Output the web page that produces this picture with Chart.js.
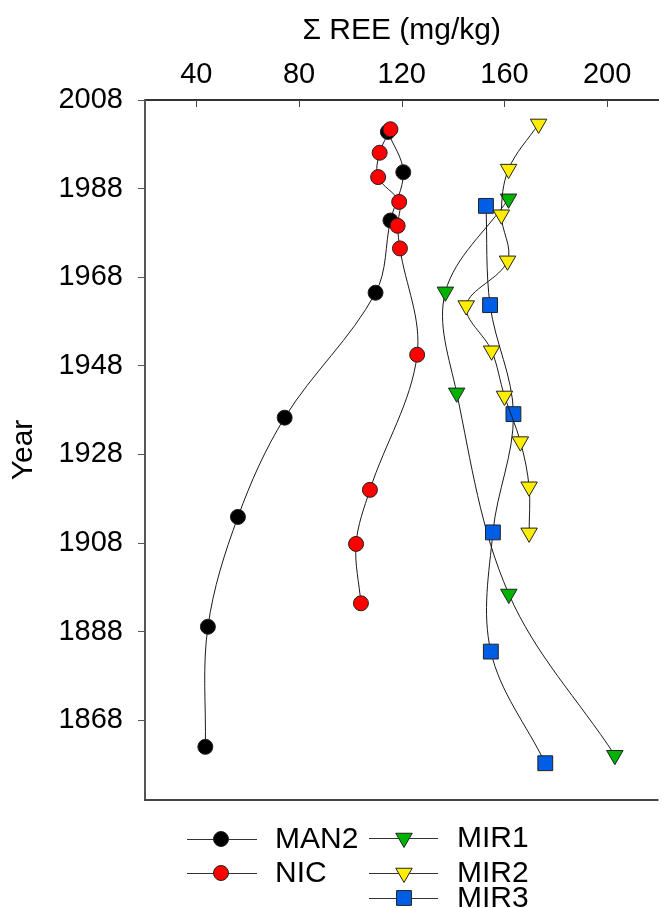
<!DOCTYPE html>
<html>
<head>
<meta charset="utf-8">
<script src="https://cdn.jsdelivr.net/npm/chart.js@4.4.0/dist/chart.umd.min.js"></script>
<style>
  html, body { margin: 0; padding: 0; background: #fff; overflow: hidden; }
  canvas { display: block; }
</style>
</head>
<body>
<canvas id="myChart" width="670" height="908"></canvas>
<script>
var xTicks = [40, 80, 120, 160, 200];
var yTicks = [1868, 1888, 1908, 1928, 1948, 1968, 1988, 2008];

// sum of REE (mg/kg) by year
var man2Year = [2000.8, 1991.7, 1980.8, 1964.5, 1936.3, 1913.9, 1889.1, 1862.0];
var man2Ree = [114.6, 120.6, 115.6, 109.8, 74.4, 56.2, 44.5, 43.5];

var nicYear = [2001.4, 1996.1, 1990.6, 1985.0, 1979.6, 1974.5, 1950.5, 1920.0, 1907.8, 1894.4];
var nicRee = [115.6, 111.4, 110.8, 119.0, 118.4, 119.3, 126.0, 107.6, 102.2, 104.1];

var mir1Year = [1985.7, 1964.7, 1941.9, 1896.5, 1860.1];
var mir1Ree = [161.6, 137.0, 141.4, 161.7, 203.0];

var mir2Year = [2002.6, 1992.4, 1982.1, 1971.7, 1961.6, 1951.4, 1941.2, 1930.9, 1920.7, 1910.3];
var mir2Ree = [173.3, 161.6, 158.8, 161.2, 145.1, 155.0, 160.0, 166.2, 169.6, 169.6];

var mir3Year = [1984.1, 1961.7, 1937.1, 1910.4, 1883.5, 1858.3];
var mir3Ree = [152.8, 154.4, 163.5, 155.5, 154.7, 175.9];

var fontFamily = "'Liberation Sans', Arial, sans-serif";

function toPoints(xs, ys) {
  var out = [];
  for (let i = 0; i < xs.length; i++) {
    out.push({ x: xs[i], y: ys[i] });
  }
  return out;
}

function series(label, xs, ys, color, style, radius, rotation, order) {
  return {
    label: label,
    data: toPoints(xs, ys),
    showLine: true,
    tension: 0.35,
    borderColor: '#1a1a1a',
    borderWidth: 1,
    pointStyle: style,
    pointRadius: radius,
    pointHoverRadius: radius,
    pointRotation: rotation,
    pointBackgroundColor: color,
    pointBorderColor: '#222',
    pointBorderWidth: 1,
    order: order
  };
}

var datasets = [
  series('MAN2', man2Ree, man2Year, '#000000', 'circle', 7.5, 0, 5),
  series('NIC', nicRee, nicYear, '#ff0000', 'circle', 7.5, 0, 4),
  series('MIR1', mir1Ree, mir1Year, '#00b300', 'triangle', 9.5, 180, 3),
  series('MIR2', mir2Ree, mir2Year, '#ffee00', 'triangle', 9.5, 180, 1),
  series('MIR3', mir3Ree, mir3Year, '#005ee6', 'rect', 10.5, 0, 2)
];

// legend spots: [dataset index, line start x, marker x, line end x, text x, y]
var legendSpots = [
  [0, 187, 221, 257, 275, 839],
  [1, 187, 221, 257, 275, 873],
  [2, 369, 404, 438, 457, 838],
  [3, 369, 404, 438, 457, 873],
  [4, 369, 404, 438, 457, 898]
];

var framePlugin = {
  id: 'frame',
  afterDraw: function (chart) {
    var ctx = chart.ctx;
    var area = chart.chartArea;
    var xs = chart.scales.x;
    ctx.save();
    // bottom frame line
    ctx.strokeStyle = '#444';
    ctx.lineWidth = 2;
    ctx.beginPath();
    ctx.moveTo(area.left - 1, area.bottom);
    ctx.lineTo(area.right, area.bottom);
    ctx.stroke();
    // inward ticks on the top axis
    ctx.lineWidth = 1;
    xTicks.forEach(function (v) {
      var px = Math.round(xs.getPixelForValue(v)) + 0.5;
      ctx.beginPath();
      ctx.moveTo(px, area.top);
      ctx.lineTo(px, area.top + 7);
      ctx.stroke();
    });
    // legend
    legendSpots.forEach(function (s) {
      var ds = chart.data.datasets[s[0]];
      ctx.strokeStyle = '#333';
      ctx.lineWidth = 1;
      ctx.beginPath();
      ctx.moveTo(s[1], s[5] + 0.5);
      ctx.lineTo(s[3], s[5] + 0.5);
      ctx.stroke();
      ctx.fillStyle = ds.pointBackgroundColor;
      ctx.strokeStyle = ds.pointBorderColor;
      Chart.helpers.drawPoint(ctx, {
        pointStyle: ds.pointStyle,
        radius: ds.pointRadius,
        rotation: ds.pointRotation,
        borderWidth: 1
      }, s[2], s[5]);
      ctx.fillStyle = '#000';
      ctx.font = '30px ' + fontFamily;
      ctx.textAlign = 'left';
      ctx.textBaseline = 'middle';
      ctx.fillText(ds.label, s[4], s[5] + 1);
    });
    ctx.restore();
  }
};

new Chart(document.getElementById('myChart'), {
  type: 'scatter',
  data: { datasets: datasets },
  plugins: [framePlugin],
  options: {
    responsive: false,
    animation: false,
    layout: { padding: { left: 0, right: 0, top: 0, bottom: 108 } },
    plugins: {
      legend: { display: false },
      tooltip: { enabled: false }
    },
    scales: {
      x: {
        type: 'linear',
        position: 'top',
        min: 20,
        max: 220,
        afterBuildTicks: function (scale) {
          scale.ticks = xTicks.map(function (v) { return { value: v }; });
        },
        afterFit: function (scale) { scale.height = 100; },
        grid: { display: false, drawTicks: false },
        border: { display: true, color: '#333', width: 2 },
        ticks: {
          color: '#000',
          padding: 8,
          maxRotation: 0,
          autoSkip: false,
          font: { family: fontFamily, size: 29 },
          callback: function (v) { return String(v); }
        },
        title: {
          display: true,
          text: 'Σ REE (mg/kg)',
          color: '#000',
          font: { family: fontFamily, size: 30 },
          padding: { top: 13, bottom: 0 }
        }
      },
      y: {
        type: 'linear',
        position: 'left',
        min: 1850,
        max: 2008,
        afterBuildTicks: function (scale) {
          scale.ticks = yTicks.map(function (v) { return { value: v }; });
        },
        afterFit: function (scale) { scale.width = 145; },
        grid: { drawOnChartArea: false, drawTicks: true, tickLength: 7, color: '#555' },
        border: { display: true, color: '#555', width: 2 },
        ticks: {
          color: '#000',
          padding: 15,
          autoSkip: false,
          font: { family: fontFamily, size: 29 },
          callback: function (v) { return String(v); }
        },
        title: {
          display: true,
          text: 'Year',
          color: '#000',
          font: { family: fontFamily, size: 30 },
          padding: { top: 6, bottom: 0 }
        }
      }
    }
  }
});
</script>
</body>
</html>
